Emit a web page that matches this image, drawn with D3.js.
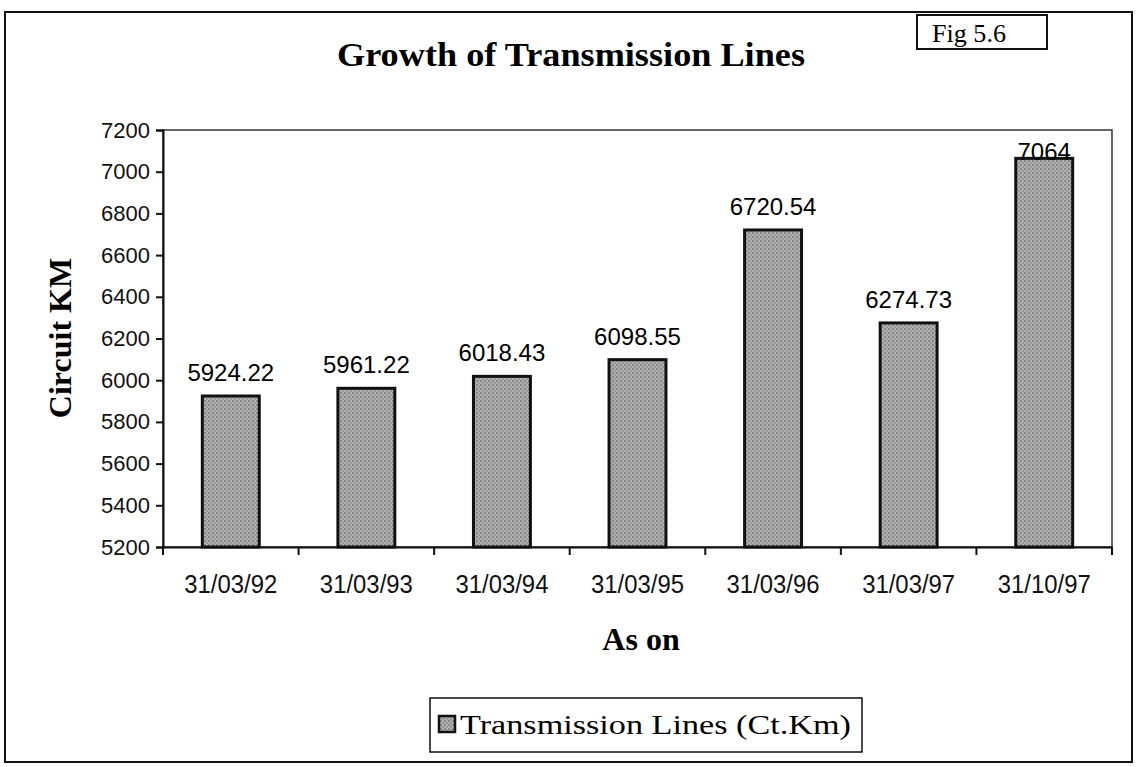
<!DOCTYPE html>
<meta charset="utf-8">
<style>
body { margin: 0; background: #fff; }
.tick text { font-family: Arial, "Liberation Sans", sans-serif; fill: #111; }
.tick line, .domain { stroke: #111; stroke-width: 2px; }
</style>
<body>
<svg id="chart" width="1139" height="767"></svg>
<script src="https://d3js.org/d3.v7.min.js"></script>
<script>

// data
var dates = ["31/03/92", "31/03/93", "31/03/94", "31/03/95", "31/03/96", "31/03/97", "31/10/97"];
var lineKm = [5924.22, 5961.22, 6018.43, 6098.55, 6720.54, 6274.73, 7064];
var labels = ["5924.22", "5961.22", "6018.43", "6098.55", "6720.54", "6274.73", "7064"];
var yTicks = [5200, 5400, 5600, 5800, 6000, 6200, 6400, 6600, 6800, 7000, 7200];

var svg = d3.select("#chart");
var serif = "'Liberation Serif', 'Times New Roman', serif";

// bar texture
var defs = svg.append("defs");
var pat = defs.append("pattern")
    .attr("id", "grain")
    .attr("width", 4).attr("height", 4)
    .attr("patternUnits", "userSpaceOnUse");
pat.append("rect").attr("width", 4).attr("height", 4).attr("fill", "#b0b0b0");
pat.append("rect").attr("x", 0).attr("y", 0).attr("width", 2).attr("height", 2).attr("fill", "#888");
pat.append("rect").attr("x", 2).attr("y", 2).attr("width", 2).attr("height", 2).attr("fill", "#989898");

// outer frame
svg.append("rect")
    .attr("x", 5).attr("y", 12)
    .attr("width", 1127).attr("height", 750)
    .attr("fill", "none").attr("stroke", "#111").attr("stroke-width", 2);

// title
svg.append("text")
    .attr("x", 571).attr("y", 66)
    .attr("text-anchor", "middle")
    .attr("textLength", 468).attr("lengthAdjust", "spacingAndGlyphs")
    .style("font-family", serif).style("font-weight", "bold").style("font-size", "33px")
    .text("Growth of Transmission Lines");

// fig label box
svg.append("rect")
    .attr("x", 917).attr("y", 15).attr("width", 130).attr("height", 34)
    .attr("fill", "#fff").attr("stroke", "#111").attr("stroke-width", 2);
svg.append("text")
    .attr("x", 932).attr("y", 42)
    .attr("textLength", 74).attr("lengthAdjust", "spacingAndGlyphs")
    .style("font-family", serif).style("font-size", "25px")
    .text("Fig 5.6");

var margin = {top: 130, left: 163, right: 1112, bottom: 547};

var x = d3.scaleBand()
    .domain(dates)
    .range([margin.left, margin.right])
    .paddingInner(0.58).paddingOuter(0.29);

var y = d3.scaleLinear()
    .domain([5200, 7200])
    .range([margin.bottom, margin.top]);

// plot frame
svg.append("rect")
    .attr("x", margin.left).attr("y", margin.top)
    .attr("width", margin.right - margin.left).attr("height", margin.bottom - margin.top)
    .attr("fill", "none").attr("stroke", "#333").attr("stroke-width", 1.5);

// bars
svg.selectAll(".bar")
    .data(lineKm)
    .enter().append("rect")
    .attr("class", "bar")
    .attr("x", function(d, i) { return x(dates[i]); })
    .attr("y", function(d) { return y(d); })
    .attr("width", x.bandwidth())
    .attr("height", function(d) { return y(5200) - y(d); })
    .attr("fill", "url(#grain)")
    .attr("stroke", "#111")
    .attr("stroke-width", 3);

// value labels
svg.selectAll(".val")
    .data(lineKm)
    .enter().append("text")
    .attr("class", "val")
    .attr("x", function(d, i) { return x(dates[i]) + x.bandwidth() / 2; })
    .attr("y", function(d) { return Math.max(y(d) - 15, margin.top + 30); })
    .attr("text-anchor", "middle")
    .style("font-family", "Arial, 'Liberation Sans', sans-serif")
    .style("font-size", "24px")
    .text(function(d, i) { return labels[i]; });

// axes
svg.append("g")
    .attr("transform", "translate(" + margin.left + ",0)")
    .call(d3.axisLeft(y).tickValues(yTicks).tickSize(7).tickPadding(6).tickFormat(d3.format("d")))
    .selectAll(".tick text").style("font-size", "22px");

var xAxis = d3.axisBottom(x).tickSize(0).tickPadding(28);
svg.append("g")
    .attr("transform", "translate(0," + margin.bottom + ")")
    .call(xAxis)
    .selectAll(".tick text").style("font-size", "26px")
    .attr("textLength", 93).attr("lengthAdjust", "spacingAndGlyphs");

// x tick marks between categories
var bounds = d3.range(dates.length + 1).map(function(i) {
  return margin.left + i * (margin.right - margin.left) / dates.length;
});
svg.selectAll(".xtick")
    .data(bounds)
    .enter().append("line")
    .attr("x1", function(d) { return d; }).attr("x2", function(d) { return d; })
    .attr("y1", margin.bottom).attr("y2", margin.bottom + 8)
    .attr("stroke", "#111").attr("stroke-width", 2);

// axis titles
svg.append("text")
    .attr("transform", "translate(71,338) rotate(-90)")
    .attr("text-anchor", "middle")
    .style("font-family", serif).style("font-weight", "bold").style("font-size", "32px")
    .text("Circuit KM");

svg.append("text")
    .attr("x", 641).attr("y", 650)
    .attr("text-anchor", "middle")
    .style("font-family", serif).style("font-weight", "bold").style("font-size", "32px")
    .text("As on");

// legend
svg.append("rect")
    .attr("x", 430).attr("y", 698).attr("width", 432).attr("height", 54)
    .attr("fill", "#fff").attr("stroke", "#111").attr("stroke-width", 1.5);
svg.append("rect")
    .attr("x", 439).attr("y", 716).attr("width", 16).attr("height", 16)
    .attr("fill", "url(#grain)").attr("stroke", "#111").attr("stroke-width", 2.5);
svg.append("text")
    .attr("x", 460).attr("y", 734)
    .attr("textLength", 391).attr("lengthAdjust", "spacingAndGlyphs")
    .style("font-family", serif).style("font-size", "28px")
    .text("Transmission Lines (Ct.Km)");

</script>
</body>
